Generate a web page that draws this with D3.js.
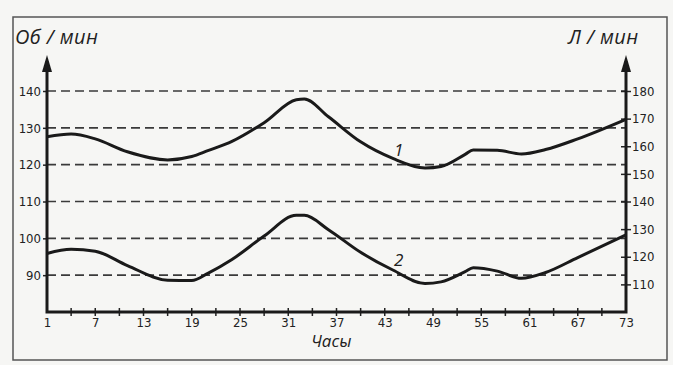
<!DOCTYPE html>
<html>
<head>
<meta charset="utf-8">
<script src="https://cdn.jsdelivr.net/npm/d3@7"></script>
<style>
  body { margin: 0; background: #f6f6f4; }
  svg { display: block; }
</style>
</head>
<body>
<div id="chart"></div>
<script>
var svgWidth = 673;
var svgHeight = 365;

// data
var hours = [1, 4, 7, 11, 16, 19, 21, 24, 28, 32, 33, 36, 40, 44, 48, 50, 53, 54, 57, 60, 63, 67, 73];
var series1 = [127.6, 128.3, 127.0, 123.5, 121.3, 122.2, 123.8, 126.3, 131.4, 137.6, 137.8, 133.0, 126.2, 121.7, 119.1, 119.5, 122.8, 124.0, 123.9, 122.9, 124.1, 127.0, 132.3];
var series2 = [121.2, 122.7, 122.0, 116.8, 111.5, 111.4, 114.0, 119.0, 127.5, 135.0, 135.0, 129.8, 121.6, 115.2, 110.3, 110.9, 114.6, 116.0, 114.8, 112.2, 114.3, 119.7, 127.9];
var leftTicks = [90, 100, 110, 120, 130, 140];
var rightTicks = [110, 120, 130, 140, 150, 160, 170, 180];
var xLabels = [1, 7, 13, 19, 25, 31, 37, 43, 49, 55, 61, 67, 73];
var xMinor = d3.range(1, 74, 3);

var margin = {top: 91, right: 47, bottom: 53, left: 47};
var chartWidth = svgWidth - margin.left - margin.right;
var chartHeight = svgHeight - margin.top - margin.bottom;

var svg = d3.select("#chart")
    .append("svg")
    .attr("width", svgWidth)
    .attr("height", svgHeight);

// outer frame
svg.append("rect")
    .attr("x", 13).attr("y", 17)
    .attr("width", 654).attr("height", 343)
    .attr("fill", "none")
    .attr("stroke", "#555")
    .attr("stroke-width", 1.5);

var g = svg.append("g")
    .attr("transform", `translate(${margin.left},${margin.top})`);

var x = d3.scaleLinear().domain([1, 73]).range([0, chartWidth]);
var yL = d3.scaleLinear().domain([80, 140]).range([chartHeight, 0]);
var yR = d3.scaleLinear().domain([100, 180]).range([chartHeight, 0]);

var font = "'Liberation Sans Narrow', 'DejaVu Sans Condensed', 'Liberation Sans', sans-serif";

// dashed grid at left ticks
g.selectAll(".grid")
    .data(leftTicks)
    .enter().append("line")
    .attr("x1", 0).attr("x2", chartWidth)
    .attr("y1", d => yL(d)).attr("y2", d => yL(d))
    .attr("stroke", "#3a3a3a")
    .attr("stroke-width", 1.7)
    .attr("stroke-dasharray", "9,5");

// left axis
var leftAxis = d3.axisLeft(yL).tickValues(leftTicks).tickSize(4).tickPadding(2);
g.append("g").call(leftAxis)
    .call(a => a.select(".domain").remove())
    .call(a => a.selectAll("line").attr("stroke", "#222").attr("stroke-width", 1.5))
    .call(a => a.selectAll("text").attr("font-family", font).attr("font-size", 13).attr("fill", "#222"));

// right axis, ticks cross the line
var rightAxis = d3.axisRight(yR).tickValues(rightTicks).tickSize(5).tickPadding(1);
var ra = g.append("g").attr("transform", `translate(${chartWidth},0)`).call(rightAxis);
ra.select(".domain").remove();
ra.selectAll("line").attr("x1", -5).attr("stroke", "#222").attr("stroke-width", 1.5);
ra.selectAll("text").attr("font-family", font).attr("font-size", 13).attr("fill", "#222");

// bottom axis
var bottomAxis = d3.axisBottom(x).tickValues(xLabels).tickSize(0).tickPadding(6);
var ba = g.append("g").attr("transform", `translate(0,${chartHeight})`).call(bottomAxis);
ba.select(".domain").remove();
ba.selectAll("text").attr("font-family", font).attr("font-size", 13).attr("fill", "#222");
g.selectAll(".xminor")
    .data(xMinor.filter(d => d > 1 && d < 73))
    .enter().append("line")
    .attr("x1", d => x(d)).attr("x2", d => x(d))
    .attr("y1", chartHeight - 4).attr("y2", chartHeight + 4)
    .attr("stroke", "#222").attr("stroke-width", 1.5);

// axis frame lines (left, bottom, right) with arrows
g.append("path")
    .attr("d", `M0,${-30}V${chartHeight}H${chartWidth}V${-30}`)
    .attr("fill", "none")
    .attr("stroke", "#1a1a1a")
    .attr("stroke-width", 3);

[0, chartWidth].forEach(function(px) {
    g.append("path")
        .attr("d", `M${px},-36L${px - 5},-19L${px + 5},-19Z`)
        .attr("fill", "#1a1a1a");
});

// curves
var line1 = d3.line().x((d, i) => x(hours[i])).y(d => yL(d)).curve(d3.curveMonotoneX);
var line2 = d3.line().x((d, i) => x(hours[i])).y(d => yR(d)).curve(d3.curveMonotoneX);

g.append("path").datum(series1)
    .attr("d", line1)
    .attr("fill", "none").attr("stroke", "#1a1a1a").attr("stroke-width", 3);
g.append("path").datum(series2)
    .attr("d", line2)
    .attr("fill", "none").attr("stroke", "#1a1a1a").attr("stroke-width", 3);

// curve labels
var italic = "'Open Sans', 'DejaVu Sans', sans-serif";
svg.append("text").attr("x", 394).attr("y", 156).text("1")
    .attr("font-family", italic).attr("font-style", "italic").attr("font-size", 17).attr("fill", "#222");
svg.append("text").attr("x", 394).attr("y", 266).text("2")
    .attr("font-family", italic).attr("font-style", "italic").attr("font-size", 17).attr("fill", "#222");

// axis titles
svg.append("text").attr("x", 15).attr("y", 44).text("Об / мин")
    .attr("font-family", italic).attr("font-style", "italic").attr("font-size", 20)
    .attr("letter-spacing", 0.4).attr("fill", "#222");
svg.append("text").attr("x", 568).attr("y", 44).text("Л / мин")
    .attr("font-family", italic).attr("font-style", "italic").attr("font-size", 20)
    .attr("letter-spacing", 0.4).attr("fill", "#222");
svg.append("text").attr("x", 311).attr("y", 347).text("Часы")
    .attr("font-family", italic).attr("font-style", "italic").attr("font-size", 17).attr("fill", "#222");
</script>
</body>
</html>
